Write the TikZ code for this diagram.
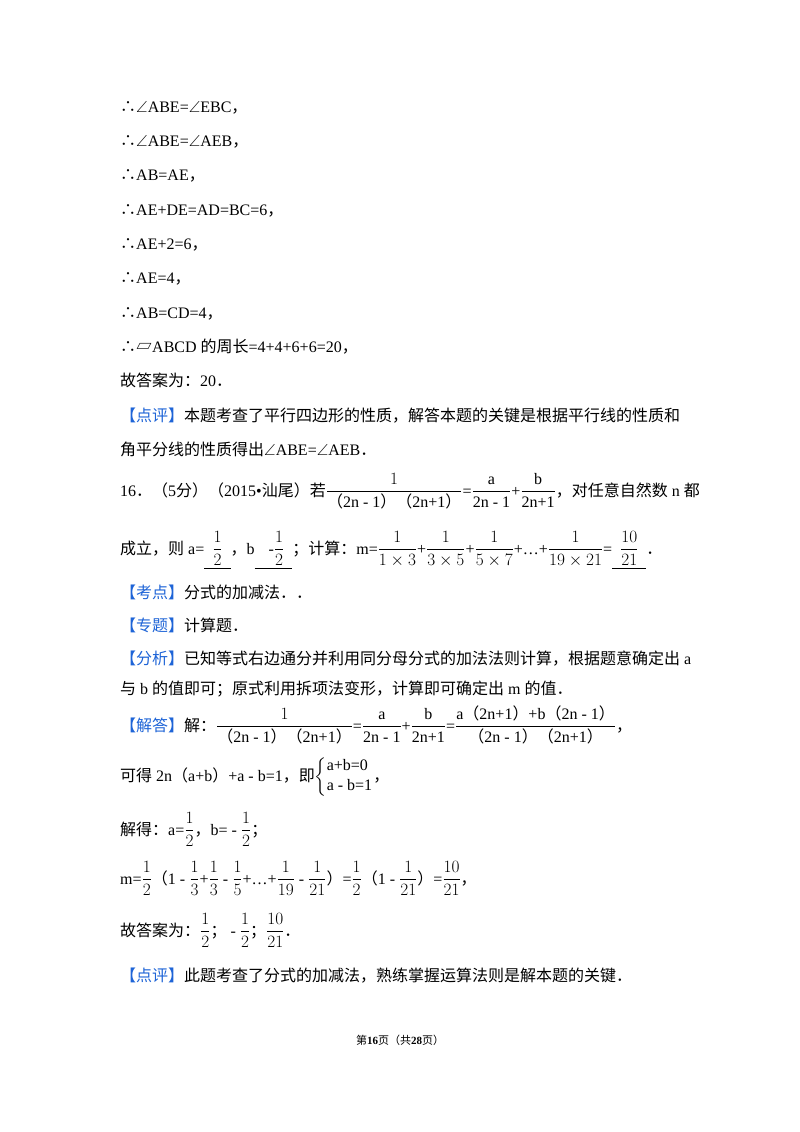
\documentclass[tikz,border=0pt]{standalone}
\usepackage{amsmath,amssymb}
\usepackage{fontspec}
\setmainfont{Liberation Serif}
\newfontfamily\cjk{Noto Sans CJK SC}
\definecolor{lblue}{RGB}{30,100,215}
\newcommand{\cj}[1]{{\cjk #1}}
\newcommand{\lbl}[1]{{\cjk\color{lblue}【#1】}}
\newcommand{\lp}{{\cjk （}}
\newcommand{\rp}{{\cjk ）}}
\newcommand{\tf}{{\cjk ∴}}
\newcommand{\blank}[1]{\underline{\hspace{8pt}#1\hspace{8pt}}}
\begin{document}
\begin{tikzpicture}[x=1pt,y=-1pt,
  ln/.style={anchor=base west,inner sep=0pt,font=\fontsize{16}{20}\selectfont}]
\useasboundingbox (0,0) rectangle (800,1132);
\fill[white] (0,0) rectangle (800,1132);
\node[ln] (l1) at (120,112) {\tf$\angle$ABE=$\angle$EBC\cj{，}};
\node[ln] (l2) at (120,146) {\tf$\angle$ABE=$\angle$AEB\cj{，}};
\node[ln] (l3) at (120,180) {\tf AB=AE\cj{，}};
\node[ln] (l4) at (120,215) {\tf AE+DE=AD=BC=6\cj{，}};
\node[ln] (l5) at (120,249) {\tf AE+2=6\cj{，}};
\node[ln] (l6) at (120,283) {\tf AE=4\cj{，}};
\node[ln] (l7) at (120,318) {\tf AB=CD=4\cj{，}};
\node[ln] (l8) at (120,352) {\tf{\cjk ▱}ABCD \cj{的周长}=4+4+6+6=20\cj{，}};
\node[ln] (l9) at (120,386) {\cj{故答案为：}20\cj{．}};
\node[ln] (l10) at (120,421) {\lbl{点评}\cj{本题考查了平行四边形的性质，解答本题的关键是根据平行线的性质和}};
\node[ln] (l11) at (120,455) {\cj{角平分线的性质得出}$\angle$ABE=$\angle$AEB\cj{．}};
\node[ln] (l12) at (120,496) {16\cj{．}\lp 5\cj{分}\rp\lp 2015•\cj{汕尾}\rp\cj{若}$\dfrac{1}{\text{\lp 2n - 1\rp\lp 2n+1\rp}}$=$\dfrac{\mathrm{a}}{\text{2n - 1}}$+$\dfrac{\mathrm{b}}{\text{2n+1}}$\cj{，对任意自然数} n \cj{都}};
\node[ln] (l13) at (120,554) {\cj{成立，则} a=\blank{$\dfrac{1}{2}$}\cj{，}b\blank{\hspace{6pt}-$\dfrac{1}{2}$}\cj{；计算：}m=$\dfrac{1}{1\times3}$+$\dfrac{1}{3\times5}$+$\dfrac{1}{5\times7}$+…+$\dfrac{1}{19\times21}$=\blank{$\dfrac{10}{21}$}\cj{．}};
\node[ln] (l14) at (120,598) {\lbl{考点}\cj{分式的加减法．．}};
\node[ln] (l15) at (120,631) {\lbl{专题}\cj{计算题．}};
\node[ln] (l16) at (120,664) {\lbl{分析}\cj{已知等式右边通分并利用同分母分式的加法法则计算，根据题意确定出} a};
\node[ln] (l17) at (120,694) {\cj{与} b \cj{的值即可；原式利用拆项法变形，计算即可确定出} m \cj{的值．}};
\node[ln] (l18) at (120,731) {\lbl{解答}\cj{解：}$\dfrac{1}{\text{\lp 2n - 1\rp\lp 2n+1\rp}}$=$\dfrac{\mathrm{a}}{\text{2n - 1}}$+$\dfrac{\mathrm{b}}{\text{2n+1}}$=$\dfrac{\text{a\lp 2n+1\rp+b\lp 2n - 1\rp}}{\text{\lp 2n - 1\rp\lp 2n+1\rp}}$\cj{，}};
\node[ln] (l19) at (120,781) {\cj{可得} 2n\lp a+b\rp+a - b=1\cj{，即}$\left\{\begin{array}{@{}l@{}}\text{a+b=0}\\\text{a - b=1}\end{array}\right.$\cj{，}};
\node[ln] (l20) at (120,835) {\cj{解得：}a=$\dfrac{1}{2}$\cj{，}b= - $\dfrac{1}{2}$\cj{；}};
\node[ln] (l21) at (120,884) {m=$\dfrac{1}{2}$\lp 1 - $\dfrac{1}{3}$+$\dfrac{1}{3}$ - $\dfrac{1}{5}$+…+$\dfrac{1}{19}$ - $\dfrac{1}{21}$\rp=$\dfrac{1}{2}$\lp 1 - $\dfrac{1}{21}$\rp=$\dfrac{10}{21}$\cj{，}};
\node[ln] (l22) at (120,936) {\cj{故答案为：}$\dfrac{1}{2}$\cj{；} - $\dfrac{1}{2}$\cj{；}$\dfrac{10}{21}$\cj{．}};
\node[ln] (l23) at (120,981) {\lbl{点评}\cj{此题考查了分式的加减法，熟练掌握运算法则是解本题的关键．}};
\node[anchor=base,inner sep=0pt,font=\fontsize{11}{13}\selectfont] (ft) at (400,1044) {\cj{第}\textbf{16}\cj{页（共}\textbf{28}\cj{页）}};
\end{tikzpicture}
\end{document}
